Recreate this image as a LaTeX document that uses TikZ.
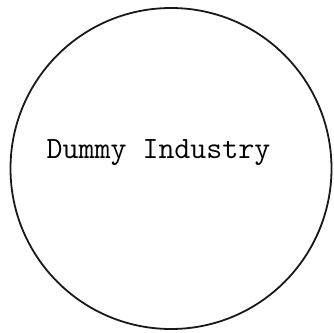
\documentclass[tikz,border=0pt]{standalone}
\begin{document}
\begin{tikzpicture}[x=1pt,y=1pt,
  ring/.style={draw=black!90,line width=1.8pt,circle,minimum size=321pt,inner sep=0pt},
  label/.style={font=\ttfamily\fontsize{31}{35}\selectfont,inner sep=0pt}]
\useasboundingbox (0,0) rectangle (334,-332);
\node[ring] (c) at (171,-168.5) {};
\node[label,anchor=base] (t) at (158.5,-158) {Dummy Industry};
\end{tikzpicture}
\end{document}
